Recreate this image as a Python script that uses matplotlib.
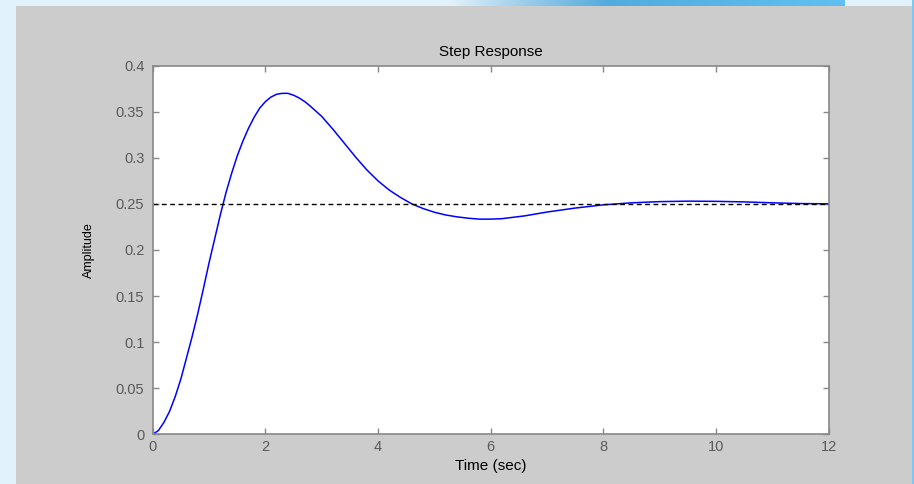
import numpy as np
import matplotlib
matplotlib.use("Agg")
import matplotlib.pyplot as plt
from matplotlib.patches import Rectangle

# step response
t = [0, 0.1, 0.2, 0.3, 0.4, 0.5, 0.6, 0.7, 0.8, 0.9, 1.0, 1.1, 1.2, 1.3, 1.4,
     1.5, 1.6, 1.7, 1.8, 1.9, 2.0, 2.1, 2.2, 2.3, 2.4, 2.5, 2.6, 2.7, 2.8,
     3.0, 3.2, 3.4, 3.6, 3.8, 4.0, 4.2, 4.4, 4.6, 4.8, 5.0, 5.2, 5.4, 5.6,
     5.8, 6.0, 6.2, 6.6, 7.0, 7.5, 8.0, 8.5, 9.0, 9.5, 10.0, 10.5, 11.0,
     11.5, 12.0]
amp = [0, 0.004, 0.013, 0.025, 0.041, 0.060, 0.083, 0.106, 0.131, 0.158,
       0.186, 0.212, 0.238, 0.262, 0.283, 0.302, 0.318, 0.332, 0.344, 0.354,
       0.361, 0.366, 0.369, 0.370, 0.370, 0.368, 0.365, 0.361, 0.356,
       0.345, 0.331, 0.316, 0.301, 0.287, 0.275, 0.265, 0.257, 0.250, 0.245,
       0.241, 0.238, 0.236, 0.2345, 0.2335, 0.2335, 0.234, 0.237,
       0.2412, 0.2455, 0.249, 0.2512, 0.2525, 0.253, 0.2528, 0.2522, 0.2512,
       0.2504, 0.2501]
final_value = 0.25
xticks = [0, 2, 4, 6, 8, 10, 12]
yticks = [0, 0.05, 0.1, 0.15, 0.2, 0.25, 0.3, 0.35, 0.4]
yticklabels = ["0", "0.05", "0.1", "0.15", "0.2", "0.25", "0.3", "0.35", "0.4"]

plt.rcParams['font.family'] = ['Liberation Sans', 'DejaVu Sans']

W, H = 914, 484
fig = plt.figure(figsize=(W / 100, H / 100), dpi=100)
fig.patch.set_facecolor('#e2f2fc')

# grey figure panel
fig.patches.append(Rectangle((16 / W, 0), (913 - 16) / W, (H - 6) / H,
                             transform=fig.transFigure, facecolor='#cccccc',
                             edgecolor='none', zorder=0))
# blue strip at top right
strip = fig.add_axes([450 / W, (H - 6) / H, (845 - 450) / W, 6 / H], zorder=1)
grad = np.linspace(0, 1, 256)
rgba = np.zeros((1, 256, 4))
rgba[0, :, 0] = 0.29 + 0.09 * grad
rgba[0, :, 1] = 0.62 + 0.13 * grad
rgba[0, :, 2] = 0.82 + 0.12 * grad
rgba[0, :, 3] = np.clip(grad * 2.5, 0, 1)
strip.imshow(rgba, aspect='auto', extent=[0, 1, 0, 1])
strip.set_axis_off()
fig.patches.append(Rectangle((912 / W, 0), 2 / W, 1, transform=fig.transFigure,
                             facecolor='#7cc8f0', edgecolor='none', zorder=0))

ax = fig.add_axes([152.7 / W, 49.7 / H, 676 / W, 368.6 / H], zorder=2)
ax.set_facecolor('white')
ax.plot(t, amp, color='#0000ff', lw=1.1)
ax.plot([t[0], t[-1]], [final_value, final_value], color='black', lw=1.0,
        dashes=(3.5, 2.5))

ax.set_xlim(0, 12)
ax.set_ylim(0, 0.4)
ax.set_xticks(xticks)
ax.set_yticks(yticks)
ax.set_yticklabels(yticklabels)
ax.tick_params(direction='in', length=4, width=1, color='#888888',
               labelcolor='#5a5a5a', labelsize=10.5, top=True, right=True)
ax.tick_params(axis='y', pad=6)
ax.tick_params(axis='x', pad=4)
for s in ax.spines.values():
    s.set_color('#888888')
    s.set_linewidth(1.2)

ax.set_title('Step Response', fontsize=11, color='black', pad=7)
ax.set_xlabel('Time (sec)', fontsize=11, labelpad=4)
ax.set_ylabel('Amplitude', fontsize=9)
ax.yaxis.set_label_coords(-0.085, 0.5)

fig.savefig('out.png', dpi=100, facecolor=fig.get_facecolor())
